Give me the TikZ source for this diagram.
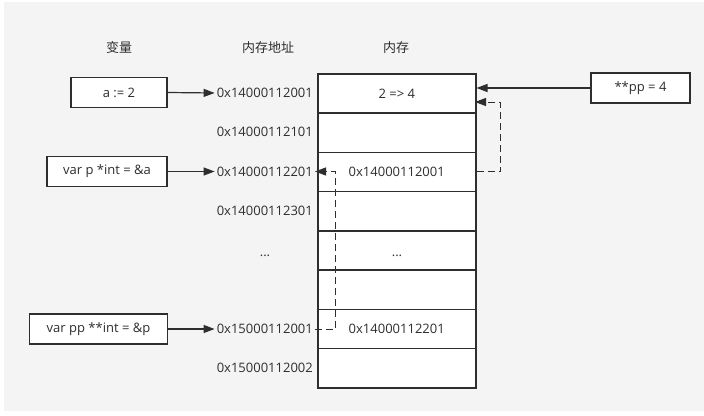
\documentclass[tikz,border=0pt]{standalone}
\usepackage{fontspec}
\setmainfont{Open Sans}
\newfontfamily\cjk{Noto Sans CJK SC}
\usetikzlibrary{arrows.meta}
\definecolor{ink}{HTML}{2E2E2E}
\definecolor{bg}{HTML}{F4F4F4}
\begin{document}
\begin{tikzpicture}[x=1pt,y=-1pt,
  font=\fontsize{13}{15}\selectfont, text=ink,
  cell/.style={draw=ink, line width=1.5pt, fill=white, minimum width=158pt, minimum height=39.25pt, inner sep=0pt, anchor=north west},
  varbox/.style={draw=ink, line width=1.5pt, fill=white, minimum height=30pt, inner sep=0pt},
  addr/.style={anchor=east, inner sep=2pt},
  hdr/.style={font=\cjk\fontsize{13}{15}\selectfont},
  arr/.style={draw=ink, line width=1.2pt, -{Triangle[length=11pt,width=8pt]}},
  darr/.style={arr, line width=1pt, dash pattern=on 7pt off 4pt}]
\useasboundingbox (0,0) rectangle (704,415);
\fill[bg] (4,2) rectangle (704,411);
% headers
\node[hdr] (h1) at (119,48) {变量};
\node[hdr] (h2) at (268,48) {内存地址};
\node[hdr] (h3) at (396,48) {内存};
% memory cells
\foreach \i in {1,...,8} {
  \node[cell] (m\i) at (317,{73+39.25*(\i-1)}) {};
}
\node at (m1) {2 => 4};
\node at (m3) {0x14000112001};
\node[anchor=base] (d5) at (397,256) {...};
\node at (m7) {0x14000112201};
% addresses
\node[addr] (ad1) at (315,93) {0x14000112001};
\node[addr] (ad2) at (315,132) {0x14000112101};
\node[addr] (ad3) at (315,171.5) {0x14000112201};
\node[addr] (ad4) at (315,211) {0x14000112301};
\node[anchor=base] (ad5) at (265,256) {...};
\node[addr] (ad7) at (315,329) {0x15000112001};
\node[addr] (ad8) at (315,368) {0x15000112002};
% variable boxes
\node[varbox, minimum width=96pt] (va) at (119,92.5) {a := 2};
\node[varbox, minimum width=120pt] (vp) at (107,171.5) {var p *int = \&a};
\node[varbox, minimum width=138pt] (vpp) at (98.5,329) {var pp **int = \&p};
\node[varbox, minimum width=99pt] (vs) at (640.5,88) {**pp = 4};
% arrows
\draw[arr] (va.east) -- (ad1.west);
\draw[arr] (vp.east) -- (ad3.west);
\draw[arr] (vpp.east) -- (ad7.west);
\draw[arr] (vs.west) -- (vs.west -| m1.east);
\coordinate (c1) at (475,102);
\draw[darr] (m3.east) -- ++(24,0) |- (c1);
\draw[darr] (ad7.east) -- (335.5,329) -- (335.5,171.5) -- (ad3.east);
\end{tikzpicture}
\end{document}
